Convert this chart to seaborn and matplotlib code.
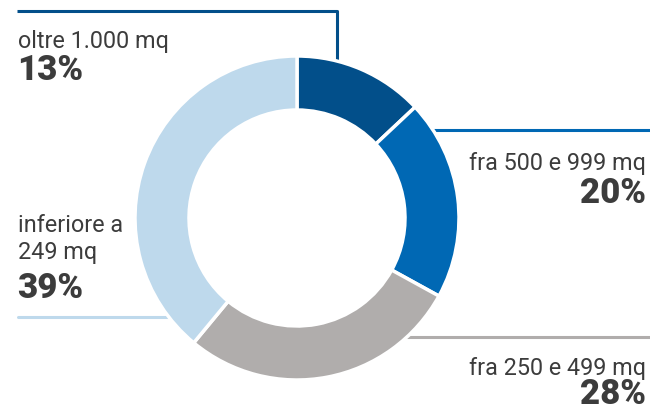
import matplotlib
matplotlib.use("Agg")
import matplotlib.pyplot as plt
import seaborn as sns

categories = ["oltre 1.000 mq", "fra 500 e 999 mq", "fra 250 e 499 mq", "inferiore a\n249 mq"]
values = [13, 20, 28, 39]
pct_labels = ["13%", "20%", "28%", "39%"]
colors = ["#024f8a", "#0068b4", "#b0adac", "#bed9ec"]

sns.set_theme(style="white")
plt.rcParams['font.family'] = ['Roboto', 'DejaVu Sans']

W, H = 650, 410
fig = plt.figure(figsize=(6.5, 4.1), dpi=100)
ax = fig.add_axes([0, 0, 1, 1])

def Y(y):
    return H - y

cx, cy, R = 297, 219, 162
ax.pie(values, colors=colors, startangle=90, counterclock=False,
       center=(cx, Y(cy)), radius=R, frame=True,
       wedgeprops=dict(width=54, edgecolor='white', linewidth=2.5))
ax.set_xlim(0, W)
ax.set_ylim(0, H)
ax.set_aspect('equal')
ax.axis('off')

# leader lines
lw = 2.2
ax.plot([17, 337, 337], [Y(12), Y(12), Y(62)], color=colors[0], lw=lw, zorder=0, solid_capstyle='butt')
ax.plot([430, 650], [Y(131), Y(131)], color=colors[1], lw=lw, zorder=0)
ax.plot([400, 650], [Y(338), Y(338)], color=colors[2], lw=lw, zorder=0)
ax.plot([18, 175], [Y(318), Y(318)], color=colors[3], lw=lw, zorder=0)

tc = "#3c3c3c"
lab_fs = 16.8
pct_fs = 25
ax.text(18, Y(48), categories[0], fontsize=lab_fs, color=tc, ha='left', va='baseline')
ax.text(17, Y(80), pct_labels[0], fontsize=pct_fs, color=tc, ha='left', va='baseline', fontweight='black')

ax.text(646, Y(170), categories[1], fontsize=lab_fs, color=tc, ha='right', va='baseline')
ax.text(646, Y(203), pct_labels[1], fontsize=pct_fs, color=tc, ha='right', va='baseline', fontweight='black')

ax.text(18, Y(232), "inferiore a", fontsize=lab_fs, color=tc, ha='left', va='baseline')
ax.text(18, Y(259), "249 mq", fontsize=lab_fs, color=tc, ha='left', va='baseline')
ax.text(17, Y(298), pct_labels[3], fontsize=pct_fs, color=tc, ha='left', va='baseline', fontweight='black')

ax.text(646, Y(375), categories[2], fontsize=lab_fs, color=tc, ha='right', va='baseline')
ax.text(646, Y(404), pct_labels[2], fontsize=pct_fs, color=tc, ha='right', va='baseline', fontweight='black')

fig.savefig("out.png", dpi=100, facecolor='white')
